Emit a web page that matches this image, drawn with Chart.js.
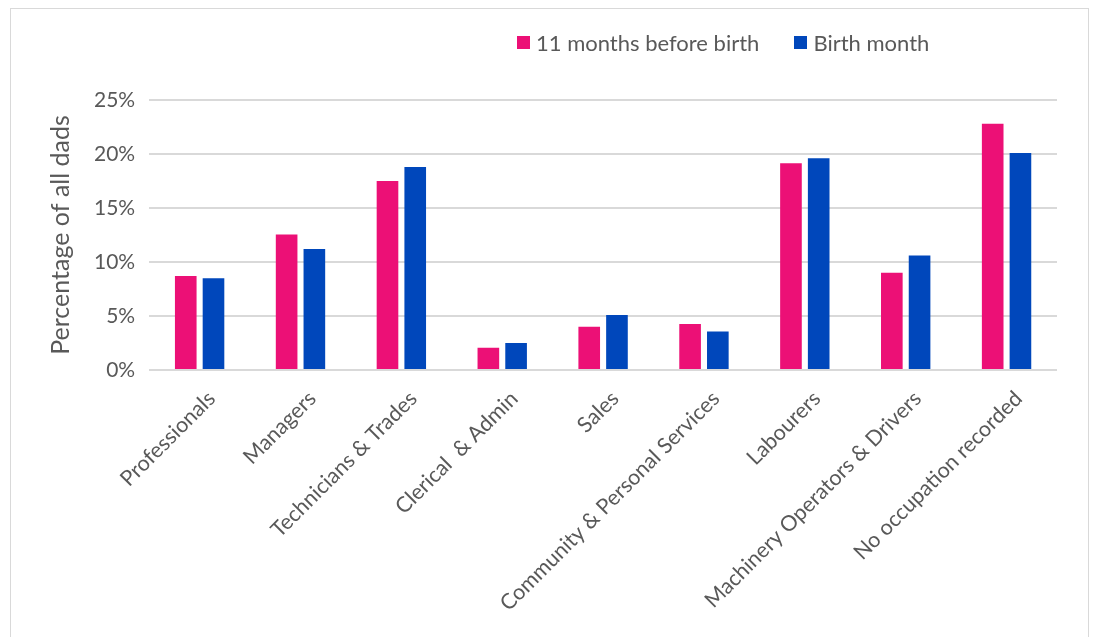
<!DOCTYPE html>
<html>
<head>
<meta charset="utf-8">
<script src="https://cdn.jsdelivr.net/npm/chart.js@4/dist/chart.umd.min.js"></script>
<style>
  body { margin: 0; background: #fff; }
  #wrap { position: relative; width: 1098px; height: 637px; overflow: hidden; }
  #frame { position: absolute; left: 10px; top: 8px; width: 1077px; height: 640px; border: 1px solid #d9d9d9; }
  #legend { position: absolute; top: 29px; left: 517px; display: flex; font-family: Lato, sans-serif; font-size: 22px; color: #595959; }
  #legend span.item { display: flex; align-items: center; margin-right: 35px; }
  #legend span.box { width: 13px; height: 13px; margin-right: 6px; display: inline-block; }
  canvas { position: absolute; left: 0; top: 0; }
</style>
</head>
<body>
<div id="wrap">
  <div id="frame"></div>
  <canvas id="grafico" width="1098" height="637"></canvas>
  <div id="legend"></div>
</div>
<script>
// categorias (eixo x)
const categorias = [
  'Professionals', 'Managers', 'Technicians & Trades', 'Clerical  & Admin', 'Sales',
  'Community & Personal Services', 'Labourers', 'Machinery Operators & Drivers', 'No occupation recorded'
];

// valores em percentual
const antesNascimento = [8.7, 12.55, 17.5, 2.05, 4.0, 4.25, 19.15, 9.0, 22.8];
const mesNascimento = [8.5, 11.2, 18.8, 2.5, 5.1, 3.57, 19.6, 10.6, 20.1];

const nomesSeries = ['11 months before birth', 'Birth month'];
const coresSeries = ['#EC1076', '#0047BB'];

const fonte = 'Lato, sans-serif';
const corTexto = '#595959';

// legenda em HTML (deslocada para a direita como no original)
const legendaDiv = document.getElementById('legend');
nomesSeries.forEach((nome, i) => {
  const item = document.createElement('span');
  item.className = 'item';
  const caixa = document.createElement('span');
  caixa.className = 'box';
  caixa.style.background = coresSeries[i];
  item.appendChild(caixa);
  item.appendChild(document.createTextNode(nome));
  legendaDiv.appendChild(item);
});

const ctx = document.getElementById('grafico');

new Chart(ctx, {
  type: 'bar',
  data: {
    labels: categorias,
    datasets: [
      {
        label: nomesSeries[0],
        data: antesNascimento,
        backgroundColor: coresSeries[0],
        categoryPercentage: 0.55,
        barPercentage: 0.78
      },
      {
        label: nomesSeries[1],
        data: mesNascimento,
        backgroundColor: coresSeries[1],
        categoryPercentage: 0.55,
        barPercentage: 0.78
      }
    ]
  },
  options: {
    responsive: false,
    animation: false,
    layout: { padding: { left: 42, right: 41, top: 100, bottom: 0 } },
    plugins: {
      legend: { display: false },
      tooltip: { enabled: false }
    },
    scales: {
      x: {
        // altura fixa do eixo para o gráfico terminar em y=370 como no original
        afterFit: (eixo) => { eixo.height = 267; },
        grid: { display: false },
        border: { display: false },
        ticks: {
          color: corTexto,
          font: { family: fonte, size: 21.5 },
          maxRotation: 45,
          minRotation: 45,
          padding: 8,
          labelOffset: 12,
          autoSkip: false
        }
      },
      y: {
        min: 0,
        max: 25,
        ticks: {
          stepSize: 5,
          color: corTexto,
          font: { family: fonte, size: 21 },
          padding: 14,
          callback: (v) => v + '%'
        },
        grid: { color: '#d9d9d9', lineWidth: 2, drawTicks: false },
        border: { display: false },
        title: {
          display: true,
          text: 'Percentage of all dads',
          color: corTexto,
          font: { family: fonte, size: 25 },
          padding: { bottom: 4 }
        }
      }
    }
  }
});
</script>
</body>
</html>
